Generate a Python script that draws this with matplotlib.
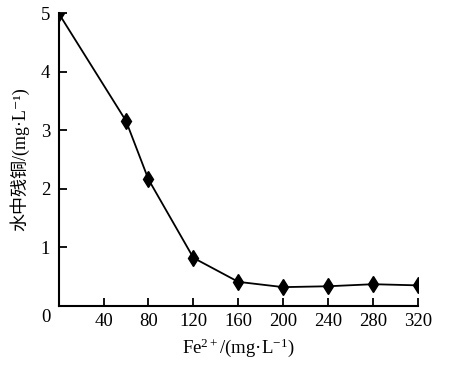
import matplotlib
matplotlib.use("Agg")
import matplotlib.pyplot as plt
import matplotlib.transforms as mtransforms

fe = [0, 60, 80, 120, 160, 200, 240, 280, 320]
cu = [5.0, 3.16, 2.16, 0.82, 0.41, 0.32, 0.335, 0.37, 0.35]
xticks = [40, 80, 120, 160, 200, 240, 280, 320]
yticks = [0, 1, 2, 3, 4, 5]

plt.rcParams['font.family'] = ['Liberation Serif', 'Noto Sans CJK SC', 'DejaVu Sans']
plt.rcParams['mathtext.fontset'] = 'custom'
plt.rcParams['mathtext.rm'] = 'Liberation Serif'
plt.rcParams['mathtext.it'] = 'Liberation Serif'
plt.rcParams['mathtext.default'] = 'rm'

fig = plt.figure(figsize=(4.54, 3.65), dpi=100)
ax = fig.add_axes([0.129, 0.162, 0.792, 0.802])
ax.plot(fe, cu, color='black', lw=1.3, marker='d', markersize=8, mfc='black', mec='black')
ax.set_xlim(0, 320)
ax.set_ylim(0, 5)
ax.set_xticks(xticks)
ax.set_yticks(yticks)
ax.set_yticklabels([str(v) for v in yticks])
for s in ['top', 'right']:
    ax.spines[s].set_visible(False)
for s in ['left', 'bottom']:
    ax.spines[s].set_linewidth(1.5)
ax.tick_params(direction='in', length=6, width=1.3, labelsize=13.5, colors='black')
ax.tick_params(axis='y', pad=6)
ax.tick_params(axis='x', pad=5)
lab0 = ax.get_yticklabels()[0]
lab0.set_transform(lab0.get_transform() + mtransforms.ScaledTranslation(0, -10/100, fig.dpi_scale_trans))
ax.set_xlabel('Fe$^{2+}$/(mg·L$^{-1}$)', fontsize=13.5, labelpad=5)
ax.set_ylabel('水中残铜/(mg·L⁻¹)', fontsize=13, labelpad=8)
fig.savefig('out.png', dpi=100)
